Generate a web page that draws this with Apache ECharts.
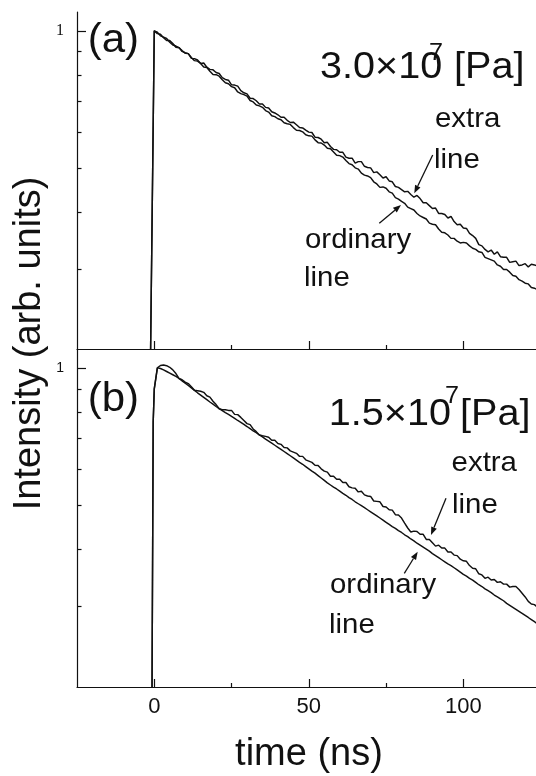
<!DOCTYPE html>
<html>
<head>
<meta charset="utf-8">
<script src="https://cdn.jsdelivr.net/npm/echarts@6/dist/echarts.min.js"></script>
<style>
  html, body { margin: 0; padding: 0; background: #fff; }
  #chart { width: 536px; height: 776px; }
</style>
</head>
<body>
<div id="chart"></div>
<script>
// Time base of the decay traces (ns)
const time = [
  0,1,2,3,4,5,6,7,8,9,10,11,12,13,14,15,16,17,18,19,20,21,22,23,24,
  25,26,27,28,29,30,31,32,33,34,35,36,37,38,39,40,41,42,43,44,45,46,47,48,49,
  50,51,52,53,54,55,56,57,58,59,60,61,62,63,64,65,66,67,68,69,70,71,72,73,74,
  75,76,77,78,79,80,81,82,83,84,85,86,87,88,89,90,91,92,93,94,95,96,97,98,99,
  100,101,102,103,104,105,106,107,108,109,110,111,112,113,114,115,116,117,118,119,120,121,122,123,124
];

// Signal onset before the main time base (below the plotted range)
const onsetTimeA = [-1.4];
const onsetA = [0.15];
const onsetTimeB = [-0.8, -0.35];
const onsetB = [0.15, 0.76];

// (a) 3.0x10^7 Pa
const ordinaryA = [
  1.000,0.993,0.975,0.969,0.962,0.944,0.931,0.926,0.919,0.901,
  0.895,0.891,0.874,0.860,0.858,0.848,0.833,0.831,0.815,0.802,
  0.801,0.795,0.781,0.769,0.765,0.754,0.750,0.734,0.728,0.724,
  0.719,0.703,0.698,0.687,0.684,0.679,0.668,0.663,0.651,0.648,
  0.641,0.638,0.628,0.625,0.623,0.613,0.605,0.604,0.600,0.591,
  0.588,0.587,0.576,0.568,0.567,0.561,0.552,0.551,0.542,0.533,
  0.532,0.528,0.519,0.511,0.508,0.500,0.497,0.487,0.482,0.480,
  0.476,0.466,0.461,0.453,0.454,0.451,0.443,0.440,0.430,0.427,
  0.422,0.418,0.410,0.407,0.404,0.397,0.392,0.389,0.386,0.378,
  0.376,0.375,0.367,0.361,0.360,0.356,0.350,0.350,0.345,0.342,
  0.343,0.342,0.337,0.333,0.331,0.327,0.326,0.318,0.316,0.314,
  0.312,0.306,0.304,0.299,0.299,0.295,0.290,0.289,0.284,0.282,
  0.279,0.278,0.273,0.272,0.270
];
const extraA = [
  1.000,0.986,0.983,0.966,0.952,0.952,0.938,0.920,0.918,0.905,
  0.893,0.891,0.870,0.869,0.863,0.848,0.850,0.832,0.823,0.821,
  0.810,0.806,0.789,0.782,0.779,0.761,0.760,0.756,0.739,0.731,
  0.727,0.711,0.710,0.702,0.691,0.691,0.679,0.677,0.664,0.660,
  0.654,0.646,0.646,0.636,0.629,0.630,0.622,0.613,0.612,0.605,
  0.599,0.598,0.584,0.583,0.578,0.568,0.569,0.557,0.549,0.548,
  0.541,0.541,0.528,0.525,0.525,0.512,0.516,0.516,0.504,0.501,
  0.500,0.488,0.490,0.483,0.475,0.478,0.468,0.466,0.455,0.453,
  0.448,0.443,0.444,0.437,0.431,0.435,0.428,0.419,0.419,0.413,
  0.407,0.408,0.397,0.397,0.395,0.388,0.391,0.381,0.375,0.376,
  0.369,0.368,0.359,0.355,0.350,0.339,0.337,0.331,0.327,0.330,
  0.323,0.327,0.319,0.318,0.318,0.310,0.311,0.312,0.305,0.306,
  0.308,0.303,0.307,0.306,0.304
];

// (b) 1.5x10^7 Pa
const ordinaryB = [
  0.900,1.000,0.997,0.990,0.982,0.974,0.966,0.958,0.948,0.937,
  0.926,0.915,0.904,0.893,0.882,0.872,0.862,0.852,0.842,0.833,
  0.823,0.814,0.806,0.798,0.791,0.783,0.775,0.767,0.760,0.752,
  0.744,0.736,0.728,0.721,0.713,0.706,0.698,0.691,0.684,0.677,
  0.670,0.663,0.656,0.649,0.642,0.635,0.628,0.621,0.615,0.608,
  0.601,0.594,0.588,0.581,0.574,0.567,0.560,0.554,0.548,0.543,
  0.537,0.531,0.526,0.520,0.515,0.509,0.504,0.499,0.494,0.489,
  0.484,0.479,0.474,0.469,0.464,0.459,0.454,0.449,0.445,0.440,
  0.436,0.431,0.427,0.422,0.418,0.413,0.409,0.405,0.401,0.397,
  0.392,0.388,0.384,0.380,0.376,0.372,0.369,0.365,0.361,0.357,
  0.353,0.350,0.346,0.343,0.339,0.335,0.332,0.328,0.325,0.322,
  0.318,0.315,0.312,0.309,0.305,0.302,0.299,0.296,0.293,0.290,
  0.287,0.284,0.281,0.278,0.275
];
const extraB = [
  0.900,1.000,1.012,1.015,1.011,1.003,0.990,0.972,0.948,0.942,
  0.931,0.924,0.909,0.893,0.891,0.889,0.884,0.869,0.863,0.845,
  0.831,0.814,0.810,0.810,0.807,0.807,0.791,0.790,0.779,0.767,
  0.755,0.751,0.735,0.725,0.713,0.710,0.708,0.705,0.694,0.694,
  0.683,0.680,0.669,0.668,0.658,0.654,0.650,0.640,0.640,0.629,
  0.625,0.621,0.612,0.611,0.601,0.594,0.591,0.579,0.579,0.570,
  0.570,0.561,0.561,0.549,0.546,0.545,0.535,0.537,0.527,0.524,
  0.523,0.511,0.510,0.509,0.497,0.496,0.489,0.488,0.477,0.476,
  0.469,0.457,0.446,0.437,0.439,0.438,0.432,0.432,0.421,0.421,
  0.414,0.407,0.409,0.403,0.403,0.395,0.395,0.389,0.388,0.381,
  0.378,0.377,0.369,0.364,0.363,0.354,0.352,0.346,0.348,0.343,
  0.344,0.339,0.340,0.336,0.336,0.331,0.332,0.332,0.327,0.321,
  0.315,0.308,0.304,0.303,0.299
];

// Axis ranges and ticks
const xRange = [-25, 123.5];
const xTicksMajor = [0, 50, 100];
const xTicksMinor = [25, 75];
const yRange = [0.2, 1.1];
const yTicksMajor = [1];
const yTicksMinor = [0.9, 0.8, 0.7, 0.6, 0.5, 0.4, 0.3];

const INK = '#111';
const SANS = '"Liberation Sans", Arial, Helvetica, sans-serif';
const SERIF = '"Liberation Serif", "Times New Roman", serif';
const lg = Math.log10;

// Intensity is plotted on a log10 scale: the value axis holds log10(I)
function trace(onsetT, onsetV, values) {
  const pts = onsetT.map((t, i) => [t, lg(onsetV[i])]);
  values.forEach((v, i) => pts.push([time[i], lg(v)]));
  return pts;
}

function xAxes(grid, showLabels) {
  return [
    {
      type: 'value', gridIndex: grid, position: 'bottom',
      min: xRange[0], max: xRange[1],
      axisLine: { show: true, onZero: false, lineStyle: { color: INK, width: 1.2 } },
      axisTick: { show: true, inside: true, length: 8, customValues: xTicksMajor,
                  lineStyle: { color: INK, width: 1.2 } },
      axisLabel: { show: showLabels, customValues: xTicksMajor, margin: 9,
                   fontSize: 22, fontFamily: SANS, color: INK },
      splitLine: { show: false }
    },
    {
      type: 'value', gridIndex: grid, position: 'bottom',
      min: xRange[0], max: xRange[1],
      axisLine: { show: false, onZero: false },
      axisTick: { show: true, inside: true, length: 4, customValues: xTicksMinor,
                  lineStyle: { color: INK, width: 1.2 } },
      axisLabel: { show: false },
      splitLine: { show: false }
    }
  ];
}

function yAxes(grid, labelFont, labelSize) {
  return [
    {
      type: 'value', gridIndex: grid, position: 'left',
      min: lg(yRange[0]), max: lg(yRange[1]),
      axisLine: { show: true, onZero: false, lineStyle: { color: INK, width: 1.2 } },
      axisTick: { show: true, inside: true, length: 9, customValues: yTicksMajor.map(lg),
                  lineStyle: { color: INK, width: 1.2 } },
      axisLabel: { show: true, customValues: yTicksMajor.map(lg), margin: 13,
                   fontSize: labelSize, fontFamily: labelFont, color: INK,
                   formatter: v => String(Math.round(Math.pow(10, v))) },
      splitLine: { show: false }
    },
    {
      type: 'value', gridIndex: grid, position: 'left',
      min: lg(yRange[0]), max: lg(yRange[1]),
      axisLine: { show: false, onZero: false },
      axisTick: { show: true, inside: true, length: 4.5, customValues: yTicksMinor.map(lg),
                  lineStyle: { color: INK, width: 1.2 } },
      axisLabel: { show: false },
      splitLine: { show: false }
    }
  ];
}

function line(name, xi, yi, data) {
  return {
    name, type: 'line', xAxisIndex: xi, yAxisIndex: yi, data,
    showSymbol: false, symbol: 'none', clip: true, smooth: false,
    lineStyle: { color: INK, width: 1.45 }, z: 3
  };
}

function label(text, x, y, size, opts) {
  return Object.assign({
    type: 'text', x, y, silent: true,
    style: { text, font: size + 'px ' + SANS, fill: INK,
             align: 'left', textAlign: 'left',
             verticalAlign: 'middle', textVerticalAlign: 'middle' }
  }, opts || {});
}

function arrow(x1, y1, x2, y2) {
  const dx = x2 - x1, dy = y2 - y1, len = Math.hypot(dx, dy);
  const ux = dx / len, uy = dy / len, L = 8, W = 3;
  const bx = x2 - ux * L, by = y2 - uy * L;
  return [
    { type: 'line', silent: true,
      shape: { x1, y1, x2: bx, y2: by },
      style: { stroke: INK, lineWidth: 1.3 } },
    { type: 'polygon', silent: true,
      shape: { points: [[x2, y2], [bx - uy * W, by + ux * W], [bx + uy * W, by - ux * W]] },
      style: { fill: INK } }
  ];
}

const chart = echarts.init(document.getElementById('chart'));
chart.setOption({
  animation: false,
  backgroundColor: '#fff',
  grid: [
    { left: 77, top: 12, width: 459, height: 337, outerBoundsMode: 'none' },
    { left: 77, top: 349, width: 459, height: 338, outerBoundsMode: 'none' }
  ],
  xAxis: [...xAxes(0, false), ...xAxes(1, true)],
  yAxis: [...yAxes(0, SERIF, 16), ...yAxes(1, SANS, 14)],
  series: [
    line('ordinary line (a)', 0, 0, trace(onsetTimeA, onsetA, ordinaryA)),
    line('extra line (a)', 0, 0, trace(onsetTimeA, onsetA, extraA)),
    line('ordinary line (b)', 2, 2, trace(onsetTimeB, onsetB, ordinaryB)),
    line('extra line (b)', 2, 2, trace(onsetTimeB, onsetB, extraB))
  ],
  graphic: [
    // axis titles
    { type: 'text', x: 29.5, y: 343.5, rotation: Math.PI / 2, silent: true,
      style: { text: 'Intensity (arb. units)', font: '38px ' + SANS, fill: INK,
               align: 'center', textAlign: 'center',
               verticalAlign: 'middle', textVerticalAlign: 'middle' } },
    { type: 'text', x: 309, y: 754.5, silent: true,
      style: { text: 'time (ns)', font: '38px ' + SANS, fill: INK,
               align: 'center', textAlign: 'center',
               verticalAlign: 'middle', textVerticalAlign: 'middle' } },
    // panel tags
    label('(a)', 87.7, 41.3, 40, { scaleX: 1.05 }),
    label('(b)', 87.7, 400.3, 40, { scaleX: 1.05 }),
    // pressures
    label('3.0×10', 320, 67.7, 36, { scaleX: 1.1 }),
    label('7', 429, 53.7, 24, { scaleX: 1.05 }),
    label('[Pa]', 454, 67.7, 36, { scaleX: 1.1 }),
    label('1.5×10', 328.7, 415.5, 36, { scaleX: 1.1 }),
    label('7', 445, 396.7, 24, { scaleX: 1.05 }),
    label('[Pa]', 460, 415.5, 36, { scaleX: 1.1 }),
    // trace annotations, panel (a)
    label('extra', 435, 118.8, 28, { scaleX: 1.05 }),
    label('line', 434, 160.3, 28, { scaleX: 1.05 }),
    label('ordinary', 305, 240.3, 28, { scaleX: 1.05 }),
    label('line', 304, 278.6, 28, { scaleX: 1.05 }),
    ...arrow(432.7, 155, 414.3, 193.3),
    ...arrow(379.3, 223.3, 401, 205),
    // trace annotations, panel (b)
    label('extra', 451.6, 463.6, 28, { scaleX: 1.05 }),
    label('line', 452, 505.3, 28, { scaleX: 1.05 }),
    label('ordinary', 330, 585.3, 28, { scaleX: 1.05 }),
    label('line', 329, 625.3, 28, { scaleX: 1.05 }),
    ...arrow(446, 498.3, 431, 535),
    ...arrow(404.3, 573.3, 417.7, 551.7)
  ]
});
</script>
</body>
</html>
